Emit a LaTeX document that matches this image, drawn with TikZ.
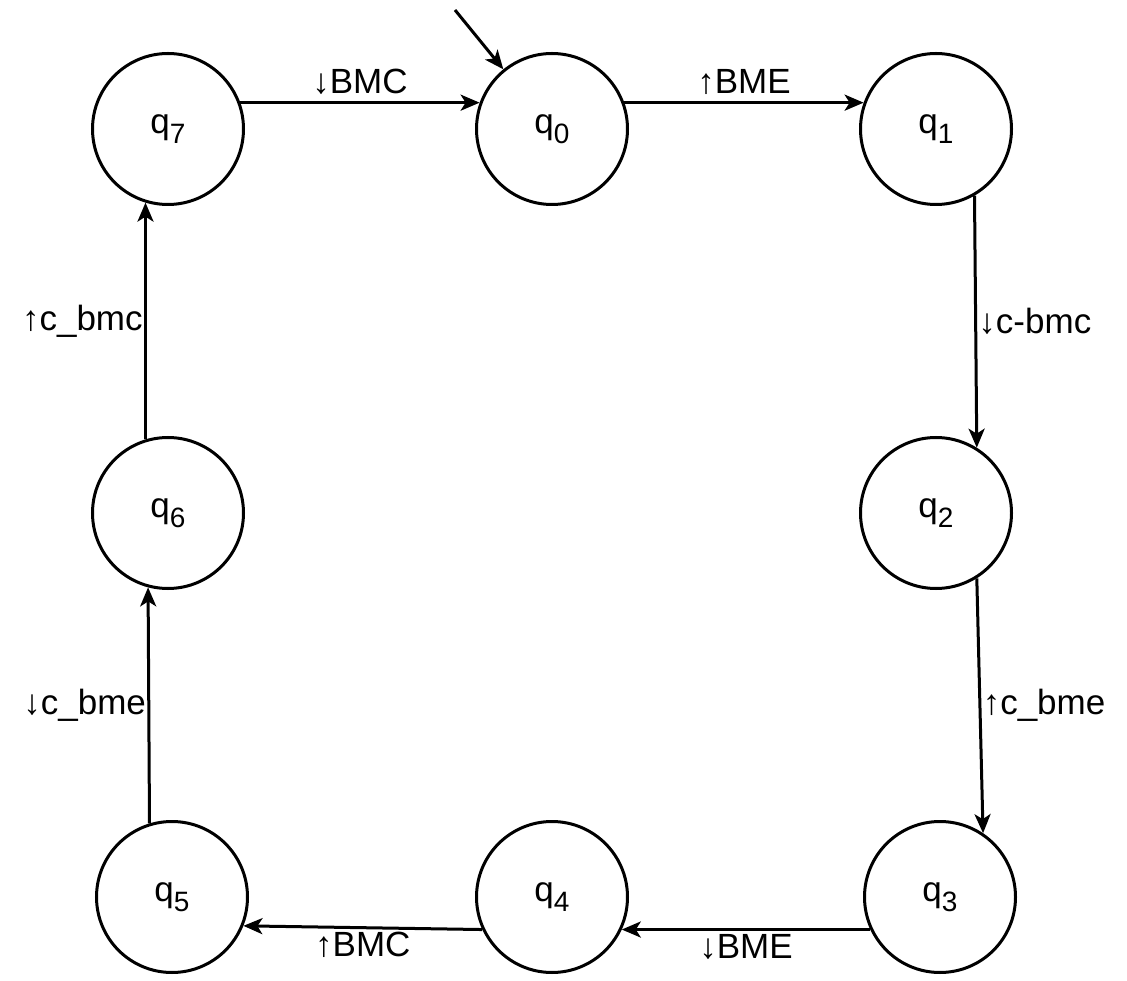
\documentclass[tikz,border=0pt]{standalone}
\usepackage{fontspec}
\setmainfont{Liberation Sans}
\usepackage{tikz}
\usetikzlibrary{automata, positioning, arrows.meta}
\tikzset{
>={Stealth[length=19pt, width=16pt, inset=5pt]}, % filled arrow heads
node distance=384pt, % grid spacing of the states
every state/.style={draw, line width=3pt, fill=white, minimum size=151pt, inner sep=0pt}, % all states
every node/.append style={font=\fontsize{35}{41}\selectfont},
}
% state label with lowered index
\newcommand{\qi}[1]{q\raisebox{-0.3em}{\fontsize{28}{32}\selectfont #1}}

\begin{document}
\begin{tikzpicture}[line width=3pt]
        \useasboundingbox (-168pt,129pt) rectangle (959pt,-852pt);

        \node[state] (7) {\qi{7}};
        \node[state, right of=7] (0) {\qi{0}};
        \node[state, right of=0] (1) {\qi{1}};
        \node[state, below of=1] (2) {\qi{2}};
        \node[state, below of=2, xshift=4pt] (3) {\qi{3}};
        \node[state, left of=3, xshift=-4pt] (4) {\qi{4}};
        \node[state, left of=4, xshift=4pt] (5) {\qi{5}};
        \node[state, above of=5, xshift=-4pt] (6) {\qi{6}};

        % start arrow
        \coordinate (start) at (287pt,119pt);
        \draw[->] (start) -- (0);

        \draw[->] (7.20) -- node[above=3pt] {↓BMC} (0.160);
        \draw[->] (0.20) -- node[above=3pt] {↑BME} (1.160);
        \draw[->] (1.-60) -- node[right=-2pt] {↓c-bmc} (2.58);
        \draw[->] (2.-58) -- node[right=-2pt] {↑c\_bme} (3.56);
        \draw[->] (3.205) -- node[below] {↓BME} (4.-25);
        \draw[->] (4.205) -- node[below] {↑BMC} (5.-22);
        \draw[->] (5.107) -- node[left=-2pt] {↓c\_bme} (6.255);
        \draw[->] (6.107) -- node[left=-2pt] {↑c\_bmc} (7.253);
    \end{tikzpicture}
\end{document}
